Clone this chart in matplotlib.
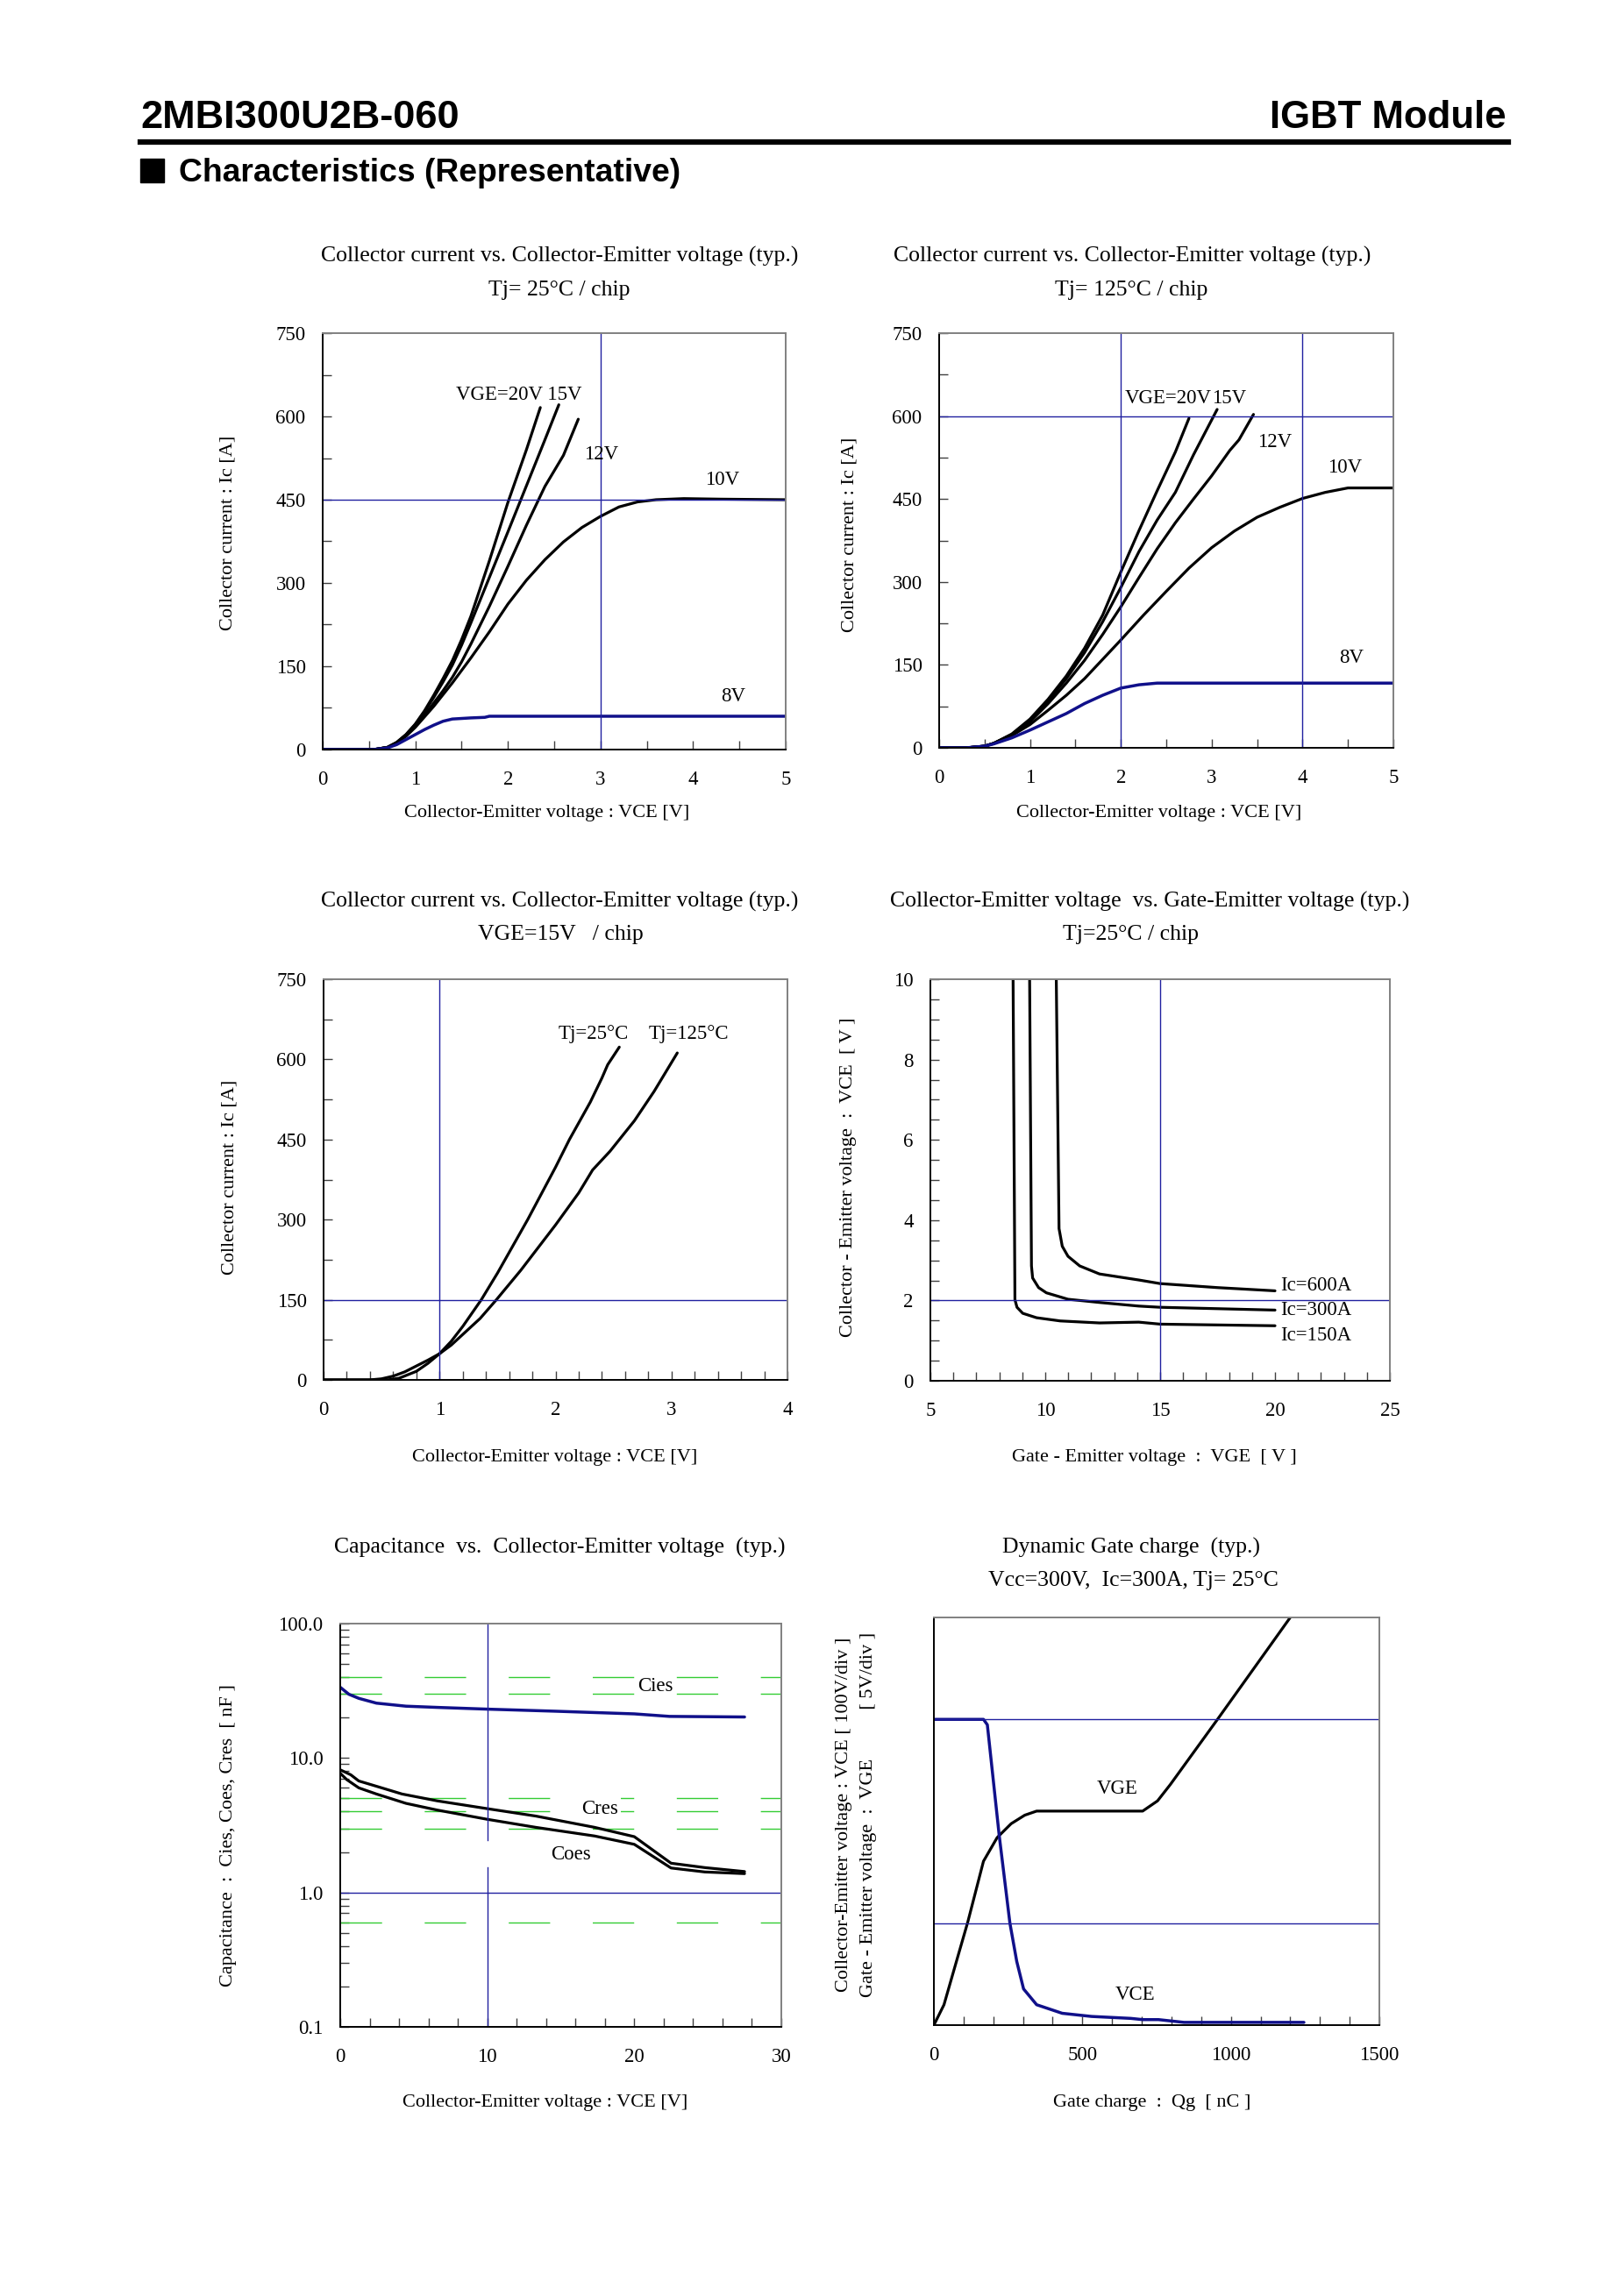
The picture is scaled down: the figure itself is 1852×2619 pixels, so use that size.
"""IGBT module datasheet page: 2MBI300U2B-060 characteristic curves."""

import matplotlib
matplotlib.use('Agg')
import matplotlib.pyplot as plt
from matplotlib.ticker import MultipleLocator, FixedLocator, NullFormatter
from matplotlib.patches import Rectangle

W, H = 1852, 2619
SERIF = 'Liberation Serif'
SANS = 'Liberation Sans'
NAVY = '#10108a'
GRID = '#2020a0'
GREEN = '#33cc33'

# --- Ic vs VCE, Tj=25C (VCE [V], Ic [A]) ---
v25_20 = [0, 0.55, 0.7, 0.8, 0.9, 1.0, 1.1, 1.2, 1.3, 1.4, 1.5, 1.6, 1.8, 2.0,
          2.2, 2.35]
i25_20 = [0, 0, 4, 13, 27, 46, 70, 98, 128, 160, 198, 240, 340, 445, 540, 616]
v25_15 = [0, 0.55, 0.7, 0.8, 0.9, 1.0, 1.1, 1.2, 1.3, 1.4, 1.5, 1.6, 1.8, 2.0,
          2.2, 2.4, 2.55]
i25_15 = [0, 0, 4, 13, 27, 45, 68, 94, 122, 152, 188, 228, 310, 392, 475, 558, 621]
v25_12 = [0, 0.55, 0.7, 0.8, 0.9, 1.0, 1.1, 1.2, 1.3, 1.4, 1.5, 1.6, 1.8, 2.0,
          2.2, 2.4, 2.6, 2.76]
i25_12 = [0, 0, 4, 12, 25, 42, 62, 84, 106, 130, 158, 190, 258, 330, 404, 474,
          530, 595]
v25_10 = [0, 0.55, 0.7, 0.8, 0.9, 1.0, 1.2, 1.4, 1.6, 1.8, 2.0, 2.2, 2.4, 2.6,
          2.8, 3.0, 3.2, 3.4, 3.6, 3.9, 4.3, 5.0]
i25_10 = [0, 0, 4, 12, 24, 40, 78, 120, 165, 212, 262, 305, 342, 374, 400, 420,
          437, 446, 450, 452, 451, 450]
v25_8 = [0, 0.55, 0.7, 0.8, 0.9, 1.0, 1.1, 1.2, 1.3, 1.4, 1.6, 1.75, 1.8, 5.0]
i25_8 = [0, 0, 3, 9, 18, 27, 36, 44, 51, 55, 57, 58, 60, 60]

# --- Ic vs VCE, Tj=125C ---
v125_20 = [0, 0.3, 0.5, 0.6, 0.8, 1.0, 1.2, 1.4, 1.6, 1.8, 2.0, 2.2, 2.4, 2.6, 2.75]
i125_20 = [0, 0, 3, 8, 25, 52, 88, 130, 180, 240, 318, 393, 465, 535, 596]
v125_15 = [0, 0.3, 0.5, 0.6, 0.8, 1.0, 1.2, 1.4, 1.6, 1.8, 2.0, 2.2, 2.4, 2.6,
           2.8, 3.06]
i125_15 = [0, 0, 3, 8, 24, 50, 85, 125, 172, 228, 290, 355, 412, 462, 530, 612]
v125_12 = [0, 0.3, 0.5, 0.6, 0.8, 1.0, 1.2, 1.4, 1.6, 1.8, 2.0, 2.2, 2.4, 2.6,
           2.8, 3.0, 3.2, 3.3, 3.46]
i125_12 = [0, 0, 3, 8, 23, 47, 80, 117, 158, 205, 255, 308, 360, 407, 450, 492,
           538, 557, 603]
v125_10 = [0, 0.3, 0.5, 0.6, 0.8, 1.0, 1.2, 1.4, 1.6, 1.8, 2.0, 2.25, 2.5, 2.75,
           3.0, 3.25, 3.5, 3.75, 4.0, 4.25, 4.5, 5.0]
i125_10 = [0, 0, 3, 8, 22, 42, 68, 95, 125, 160, 195, 240, 283, 325, 362, 392,
           417, 435, 451, 462, 470, 470]
v125_8 = [0, 0.3, 0.5, 0.6, 0.8, 1.0, 1.2, 1.4, 1.6, 1.8, 2.0, 2.2, 2.4, 2.6, 5.0]
i125_8 = [0, 0, 3, 7, 18, 32, 47, 62, 80, 95, 108, 114, 117, 117, 117]

# --- Ic vs VCE, VGE=15V ---
vt25 = [0, 0.55, 0.65, 0.8, 0.9, 1.0, 1.1, 1.2, 1.36, 1.5, 1.76, 2.0, 2.12, 2.3,
        2.4, 2.45, 2.55]
it25 = [0, 0, 3, 16, 31, 49, 72, 100, 150, 200, 300, 398, 450, 520, 565, 590, 623]
vt125 = [0, 0.4, 0.5, 0.6, 0.7, 0.8, 0.9, 1.0, 1.1, 1.2, 1.35, 1.49, 1.7, 2.0,
         2.2, 2.32, 2.47, 2.68, 2.85, 3.05]
it125 = [0, 0, 2, 7, 15, 26, 37, 49, 65, 85, 115, 150, 205, 290, 350, 393, 428,
         485, 540, 612]

# --- VCE vs VGE, Tj=25C (VGE [V], VCE [V]) ---
vge_150 = [8.6, 8.68, 8.77, 9.02, 9.62, 10.65, 12.36, 14.07, 15.0, 20.0]
vce_150 = [10, 2.02, 1.83, 1.68, 1.57, 1.49, 1.44, 1.46, 1.41, 1.37]
vge_300 = [9.32, 9.40, 9.45, 9.71, 10.05, 10.99, 12.36, 14.07, 15.0, 20.0]
vce_300 = [10, 2.86, 2.56, 2.32, 2.19, 2.03, 1.95, 1.86, 1.83, 1.76]
vge_600 = [10.48, 10.6, 10.74, 10.99, 11.5, 12.36, 14.07, 15.0, 17.5, 20.0]
vce_600 = [10, 3.79, 3.35, 3.10, 2.86, 2.66, 2.51, 2.42, 2.32, 2.24]

# --- Capacitance vs VCE (VCE [V], C [nF]) ---
vc_cies = [0, 0.59, 1.26, 2.46, 4.47, 6.6, 10, 14.6, 20, 22.4, 27.5]
c_cies = [33.6, 29.8, 27.8, 25.6, 24.3, 23.8, 23.1, 22.3, 21.3, 20.4, 20.2]
vc_cres = [0, 0.72, 1.26, 2.6, 4.2, 6.6, 10, 13.3, 17.3, 20, 22.5, 24.8, 27.5]
c_cres = [8.17, 7.5, 6.75, 6.1, 5.4, 4.8, 4.2, 3.7, 3.05, 2.6, 1.65, 1.53, 1.43]
vc_coes = [0, 0.45, 1.26, 2.46, 4.47, 6.6, 10, 13.3, 17.3, 20, 22.5, 24.8, 27.5]
c_coes = [7.7, 6.9, 6.0, 5.4, 4.6, 4.1, 3.5, 3.05, 2.63, 2.28, 1.52, 1.42, 1.38]
green_levels = [40, 30, 5, 4, 3, 0.6]

# --- Dynamic gate charge (Qg [nC], VGE [V], VCE [V]) ---
qg_vge = [0, 34, 74, 114, 167, 213, 260, 306, 346, 703, 753, 796, 955, 1200]
vge_q = [0, 1.0, 3.03, 5.05, 8.04, 9.2, 9.88, 10.3, 10.5, 10.5, 11.0, 11.8, 15.0, 20.0]
qg_vce = [0, 167, 180, 220, 256, 279, 302, 346, 432, 531, 663, 703, 756, 842, 1246]
vce_q = [300, 300, 294.7, 186, 100, 62.5, 35.5, 20, 11.6, 8.5, 6.6, 5.4, 5.4, 2.7, 2.7]

TITLE = 18.5
LAB = 16
TICK = 16.5

fig = plt.figure(figsize=(W / 100, H / 100), dpi=100)


def px_axes(l, t, r, b):
    return fig.add_axes([l / W, 1 - b / H, (r - l) / W, (b - t) / H])


def ftext(x, y, s, size=LAB, **kw):
    kw.setdefault('ha', 'center')
    kw.setdefault('va', 'center')
    kw.setdefault('family', SERIF)
    fig.text(x / W, 1 - y / H, s, fontsize=size, **kw)


def curve(ax, x, y, color='black', lw=2.3):
    ax.plot(x, y, color=color, lw=lw, solid_joinstyle='round',
            solid_capstyle='round')


def style(ax):
    for side in ('top', 'right'):
        ax.spines[side].set_color('#808080')
    for side in ('left', 'bottom'):
        ax.spines[side].set_color('black')
    for sp in ax.spines.values():
        sp.set_linewidth(1.4)
    ax.tick_params(which='both', direction='in', length=7, width=1,
                   color='#404040', labelsize=TICK, pad=14)
    ax.tick_params(axis='x', which='both', pad=17)
    for lab in ax.get_xticklabels() + ax.get_yticklabels():
        lab.set_family(SERIF)


def label(ax, x, y, s, ha='left', **kw):
    ax.text(x, y, s, fontsize=TICK, family=SERIF, ha=ha, va='center', **kw)


# header
fig.text(160 / W, 1 - 146 / H, '2MBI300U2B-060', fontsize=32.5, weight='bold',
         family=SANS, ha='left', va='baseline')
fig.text(1718 / W, 1 - 146 / H, 'IGBT Module', fontsize=31.5, weight='bold',
         family=SANS, ha='right', va='baseline')
fig.add_artist(plt.Line2D([160 / W, 1720 / W], [1 - 162 / H, 1 - 162 / H],
                          color='black', lw=4.5))
fig.add_artist(Rectangle((160 / W, 1 - 208 / H), 27 / W, 27 / H,
                         color='black', transform=fig.transFigure))
fig.text(204 / W, 1 - 207 / H, 'Characteristics (Representative)', fontsize=26.8,
         weight='bold', family=SANS, ha='left', va='baseline')

# ---- panel 1: Tj=25C ----
ax1 = px_axes(368, 380, 896, 855)
curve(ax1, v25_20, i25_20)
curve(ax1, v25_15, i25_15)
curve(ax1, v25_12, i25_12)
curve(ax1, v25_10, i25_10)
curve(ax1, v25_8, i25_8, color=NAVY, lw=2.5)
ax1.axvline(3, color=GRID, lw=1)
ax1.axhline(450, color=GRID, lw=1)
ax1.set_xlim(0, 5)
ax1.set_ylim(0, 750)
ax1.xaxis.set_major_locator(MultipleLocator(1))
ax1.xaxis.set_minor_locator(MultipleLocator(0.5))
ax1.yaxis.set_major_locator(MultipleLocator(150))
ax1.yaxis.set_minor_locator(MultipleLocator(75))
style(ax1)
label(ax1, 1.44, 639, 'VGE=20V 15V')
label(ax1, 2.82, 531, '12V')
label(ax1, 4.13, 485, '10V')
label(ax1, 4.3, 95, '8V')
ftext(638, 292, 'Collector current vs. Collector-Emitter voltage (typ.)', TITLE)
ftext(638, 331, 'Tj= 25°C / chip', TITLE)
ftext(260, 608, 'Collector current : Ic [A]', rotation=90)
ftext(624, 928, 'Collector-Emitter voltage : VCE [V]')

# ---- panel 2: Tj=125C ----
ax2 = px_axes(1071, 380, 1589, 853)
curve(ax2, v125_20, i125_20)
curve(ax2, v125_15, i125_15)
curve(ax2, v125_12, i125_12)
curve(ax2, v125_10, i125_10)
curve(ax2, v125_8, i125_8, color=NAVY, lw=2.5)
ax2.axvline(2, color=GRID, lw=1)
ax2.axvline(4, color=GRID, lw=1)
ax2.axhline(600, color=GRID, lw=1)
ax2.set_xlim(0, 5)
ax2.set_ylim(0, 750)
ax2.xaxis.set_major_locator(MultipleLocator(1))
ax2.xaxis.set_minor_locator(MultipleLocator(0.5))
ax2.yaxis.set_major_locator(MultipleLocator(150))
ax2.yaxis.set_minor_locator(MultipleLocator(75))
style(ax2)
label(ax2, 2.04, 632, 'VGE=20V')
label(ax2, 3.0, 632, '15V')
label(ax2, 3.5, 553, '12V')
label(ax2, 4.28, 506, '10V')
label(ax2, 4.4, 163, '8V')
ftext(1291, 292, 'Collector current vs. Collector-Emitter voltage (typ.)', TITLE)
ftext(1290, 331, 'Tj= 125°C / chip', TITLE)
ftext(969, 610, 'Collector current : Ic [A]', rotation=90)
ftext(1322, 928, 'Collector-Emitter voltage : VCE [V]')

# ---- panel 3: VGE=15V ----
ax3 = px_axes(369, 1117, 898, 1574)
curve(ax3, vt25, it25)
curve(ax3, vt125, it125)
ax3.axvline(1, color=GRID, lw=1)
ax3.axhline(150, color=GRID, lw=1)
ax3.set_xlim(0, 4)
ax3.set_ylim(0, 750)
ax3.xaxis.set_major_locator(MultipleLocator(1))
ax3.xaxis.set_minor_locator(MultipleLocator(0.2))
ax3.yaxis.set_major_locator(MultipleLocator(150))
ax3.yaxis.set_minor_locator(MultipleLocator(75))
style(ax3)
label(ax3, 2.02, 647, 'Tj=25°C')
label(ax3, 2.80, 647, 'Tj=125°C')
ftext(638, 1028, 'Collector current vs. Collector-Emitter voltage (typ.)', TITLE)
ftext(639, 1066, 'VGE=15V   / chip', TITLE)
ftext(262, 1343, 'Collector current : Ic [A]', rotation=90)
ftext(633, 1663, 'Collector-Emitter voltage : VCE [V]')

# ---- panel 4: VCE vs VGE ----
ax4 = px_axes(1061, 1117, 1585, 1575)
curve(ax4, vge_150, vce_150)
curve(ax4, vge_300, vce_300)
curve(ax4, vge_600, vce_600)
ax4.axvline(15, color=GRID, lw=1)
ax4.axhline(2, color=GRID, lw=1)
ax4.set_xlim(5, 25)
ax4.set_ylim(0, 10)
ax4.xaxis.set_major_locator(MultipleLocator(5))
ax4.xaxis.set_minor_locator(MultipleLocator(1))
ax4.yaxis.set_major_locator(MultipleLocator(2))
ax4.yaxis.set_minor_locator(MultipleLocator(0.5))
style(ax4)
label(ax4, 20.24, 2.37, 'Ic=600A')
label(ax4, 20.24, 1.75, 'Ic=300A')
label(ax4, 20.24, 1.12, 'Ic=150A')
ftext(1311, 1028, 'Collector-Emitter voltage  vs. Gate-Emitter voltage (typ.)', TITLE)
ftext(1290, 1066, 'Tj=25°C / chip', TITLE)
ftext(967, 1343, 'Collector - Emitter voltage  :  VCE  [ V ]', rotation=90)
ftext(1316, 1663, 'Gate - Emitter voltage  :  VGE  [ V ]')

# ---- panel 5: capacitance ----
ax5 = px_axes(388, 1852, 891, 2312)
ax5.set_yscale('log')
for lvl in green_levels:
    ax5.axhline(lvl, color=GREEN, lw=1, linestyle=(0, (34, 35)))
curve(ax5, vc_cies, c_cies, color=NAVY, lw=2.5)
curve(ax5, vc_cres, c_cres)
curve(ax5, vc_coes, c_coes)
ax5.axvline(10, ymin=0, ymax=0.396, color=GRID, lw=1)
ax5.axvline(10, ymin=0.464, ymax=1, color=GRID, lw=1)
ax5.axhline(1, color=GRID, lw=1)
ax5.set_xlim(0, 30)
ax5.set_ylim(0.1, 100)
ax5.xaxis.set_major_locator(FixedLocator([0, 10, 20, 30]))
ax5.xaxis.set_minor_locator(MultipleLocator(2))
ax5.yaxis.set_major_locator(FixedLocator([0.1, 1, 10, 100]))
ax5.set_yticklabels(['0.1', '1.0', '10.0', '100.0'])
ax5.yaxis.set_minor_formatter(NullFormatter())
style(ax5)
label(ax5, 20.25, 34, 'Cies', bbox=dict(fc='white', ec='none', pad=2))
label(ax5, 16.4, 4.17, 'Cres', bbox=dict(fc='white', ec='none', pad=2))
label(ax5, 14.3, 1.91, 'Coes')
ftext(638, 1765, 'Capacitance  vs.  Collector-Emitter voltage  (typ.)', TITLE)
ftext(261, 2094, 'Capacitance  :  Cies, Coes, Cres  [ nF ]', rotation=90)
ftext(622, 2398, 'Collector-Emitter voltage : VCE [V]')

# ---- panel 6: gate charge (4 divisions: 100V/div, 5V/div) ----
ax6 = px_axes(1065, 1845, 1573, 2310)
curve(ax6, qg_vge, [v / 5 for v in vge_q])
curve(ax6, qg_vce, [v / 100 for v in vce_q], color=NAVY, lw=2.5)
ax6.axhline(1, color=GRID, lw=1)
ax6.axhline(3, color=GRID, lw=1)
ax6.set_xlim(0, 1500)
ax6.set_ylim(0, 4)
ax6.xaxis.set_major_locator(MultipleLocator(500))
ax6.xaxis.set_minor_locator(MultipleLocator(100))
ax6.set_yticks([])
style(ax6)
label(ax6, 617, 2.32, 'VGE', ha='center')
label(ax6, 677, 0.30, 'VCE', ha='center')
ftext(1290, 1765, 'Dynamic Gate charge  (typ.)', TITLE)
ftext(1292, 1803, 'Vcc=300V,  Ic=300A, Tj= 25°C', TITLE)
ftext(962, 2070, 'Collector-Emitter voltage : VCE [ 100V/div ]', rotation=90)
ftext(990, 2070, 'Gate - Emitter voltage  :  VGE          [ 5V/div ]', rotation=90)
ftext(1314, 2399, 'Gate charge  :  Qg  [ nC ]')

fig.savefig('out.png', dpi=100, facecolor='white')
